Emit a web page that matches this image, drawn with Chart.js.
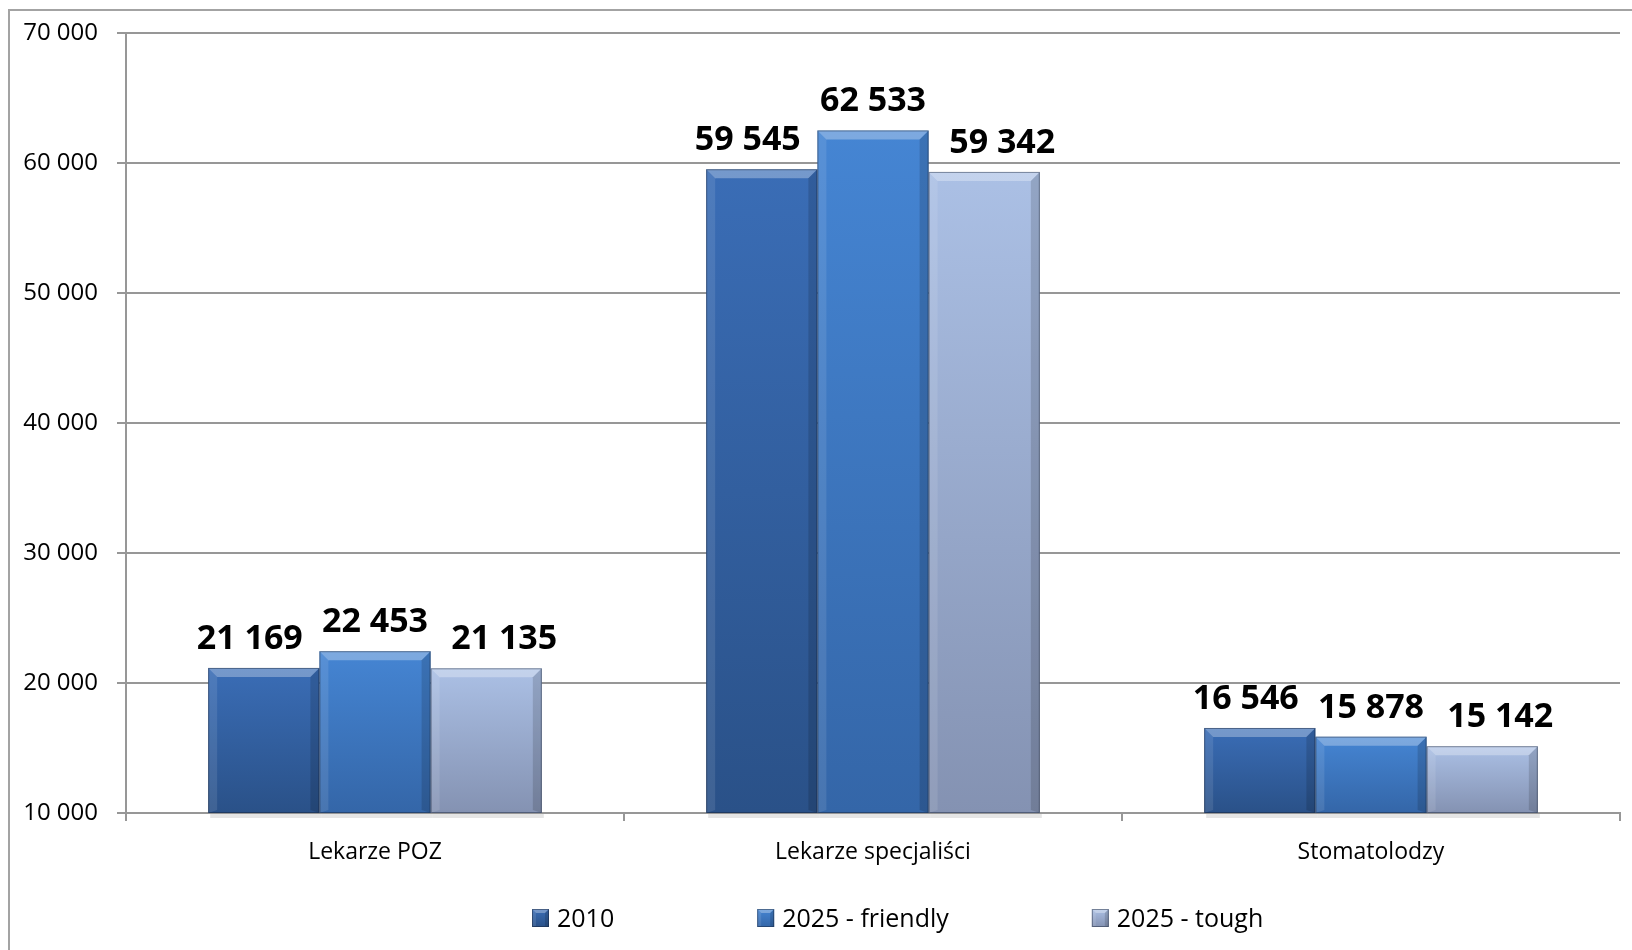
<!DOCTYPE html>
<html lang="pl">
<head>
<meta charset="utf-8">
<title>Lekarze 2010 - 2025</title>
<script src="https://cdn.jsdelivr.net/npm/chart.js@4.4.1/dist/chart.umd.min.js"></script>
<style>
  html, body { margin: 0; padding: 0; background: #fff; overflow: hidden; }
  #wykres { display: block; }
</style>
</head>
<body>
<canvas id="wykres" width="1632" height="950"></canvas>
<script>
(() => {
  // Dane wykresu
  const kategorie = ["Lekarze POZ", "Lekarze specjaliści", "Stomatolodzy"];
  const serie = ["2010", "2025 - friendly", "2025 - tough"];
  const wartosci2010 = [21169, 59545, 16546];
  const wartosciFriendly = [22453, 62533, 15878];
  const wartosciTough = [21135, 59342, 15142];
  const osYMin = 10000;
  const osYMax = 70000;
  const osYKrok = 10000;

  const czcionka = '"Open Sans", "DejaVu Sans", sans-serif';
  const szary = "#979797";

  // Kolory słupków: góra / dół / legenda
  const kolory = [
    { gora: "#3a6db6", dol: "#2a5188", legenda: "#2f5f9f" },
    { gora: "#4585d3", dol: "#3466a8", legenda: "#3a76c2" },
    { gora: "#abc0e5", dol: "#8492b2", legenda: "#9cadd0" },
  ];
  // przesunięcie etykiet w poziomie (jak w Excelu, żeby się nie nakładały)
  const przesuniecieEtykiet = [-14, 0, 18];

  // 21169 -> "21 169"
  function formatuj(v) {
    return String(v).replace(/\B(?=(\d{3})+(?!\d))/g, " ");
  }

  // Gradient pionowy dla każdego słupka osobno
  function gradientSlupka(ctx, i) {
    const chart = ctx.chart;
    if (!chart.chartArea || ctx.type !== "data") return kolory[i].legenda;
    const y = chart.scales.y;
    const gora = y.getPixelForValue(ctx.raw);
    const dol = y.getPixelForValue(osYMin);
    const g = chart.ctx.createLinearGradient(0, gora, 0, dol);
    g.addColorStop(0, kolory[i].gora);
    g.addColorStop(1, kolory[i].dol);
    return g;
  }

  // Fazowanie prostokąta (jasna góra, ciemny prawy bok)
  function faza(c, l, t, r, b, f) {
    c.save();
    c.fillStyle = "rgba(255,255,255,0.30)";
    c.beginPath();
    c.moveTo(l, t); c.lineTo(r, t); c.lineTo(r - f, t + f); c.lineTo(l + f, t + f);
    c.closePath(); c.fill();
    c.fillStyle = "rgba(255,255,255,0.10)";
    c.beginPath();
    c.moveTo(l, t); c.lineTo(l + f, t + f); c.lineTo(l + f, b - f / 3); c.lineTo(l, b);
    c.closePath(); c.fill();
    c.fillStyle = "rgba(0,0,0,0.14)";
    c.beginPath();
    c.moveTo(r, t); c.lineTo(r - f, t + f); c.lineTo(r - f, b - f / 3); c.lineTo(r, b);
    c.closePath(); c.fill();
    c.strokeStyle = "rgba(20,30,50,0.45)";
    c.lineWidth = 1;
    c.strokeRect(l + 0.5, t + 0.5, r - l - 1, b - t - 1);
    c.restore();
  }

  // Ramka wokół całego wykresu (lewa i górna krawędź)
  const ramka = {
    id: "ramka",
    beforeDraw(chart) {
      const c = chart.ctx;
      c.save();
      c.strokeStyle = "#a3a3a3";
      c.lineWidth = 2;
      c.beginPath();
      c.moveTo(9, chart.height);
      c.lineTo(9, 10);
      c.lineTo(chart.width, 10);
      c.stroke();
      c.restore();
    },
  };

  // Efekt fazowania słupków + etykiety z wartościami
  const fazowanie = {
    id: "fazowanie",
    afterDatasetsDraw(chart) {
      const c = chart.ctx;
      const obszar = chart.chartArea;
      chart.data.datasets.forEach((ds, i) => {
        chart.getDatasetMeta(i).data.forEach((bar) => {
          const p = bar.getProps(["x", "y", "base", "width"], true);
          const l = p.x - p.width / 2;
          const r = p.x + p.width / 2;
          const b = Math.min(p.base, obszar.bottom);
          faza(c, l, p.y, r, b, 9);
          // lekki cień pod słupkiem
          c.save();
          c.fillStyle = "rgba(0,0,0,0.10)";
          c.fillRect(l + 2, b + 1, r - l, 4);
          c.restore();
        });
      });
      // etykiety nad słupkami
      c.save();
      c.font = "bold 34px " + czcionka;
      c.fillStyle = "#000";
      c.textAlign = "center";
      c.textBaseline = "alphabetic";
      chart.data.datasets.forEach((ds, i) => {
        chart.getDatasetMeta(i).data.forEach((bar, j) => {
          c.fillText(formatuj(ds.data[j]), bar.x + przesuniecieEtykiet[i], bar.y - 19);
        });
      });
      c.restore();
    },
  };

  // Legenda rysowana ręcznie na dole
  const legenda = {
    id: "legenda",
    afterDraw(chart) {
      const c = chart.ctx;
      c.save();
      c.font = "25px " + czcionka;
      c.textBaseline = "middle";
      c.textAlign = "left";
      let x = 532;
      const yS = 920;
      serie.forEach((nazwa, i) => {
        const g = c.createLinearGradient(0, yS - 11, 0, yS + 7);
        g.addColorStop(0, kolory[i].gora);
        g.addColorStop(1, kolory[i].dol);
        c.fillStyle = g;
        c.fillRect(x, yS - 11, 17, 18);
        faza(c, x, yS - 11, x + 17, yS + 7, 4);
        c.fillStyle = "#000";
        c.fillText(nazwa, x + 25, yS);
        x += 25 + c.measureText(nazwa).width + 143;
      });
      c.restore();
    },
  };

  function grafikSlupkowy() {
    const ctx = document.getElementById("wykres");
    const wartosci = [wartosci2010, wartosciFriendly, wartosciTough];

    new Chart(ctx, {
      type: "bar",
      data: {
        labels: kategorie,
        datasets: serie.map((nazwa, i) => ({
          label: nazwa,
          data: wartosci[i],
          backgroundColor: (c) => gradientSlupka(c, i),
          borderWidth: 0,
          categoryPercentage: 0.67,
          barPercentage: 1,
        })),
      },
      options: {
        responsive: false,
        animation: false,
        layout: { padding: { top: 33, right: 12, left: 0, bottom: 0 } },
        plugins: {
          legend: { display: false },
          tooltip: { enabled: false },
        },
        scales: {
          x: {
            grid: {
              offset: true,
              drawOnChartArea: false,
              drawTicks: true,
              tickLength: 8,
              color: szary,
              lineWidth: 2,
            },
            border: { display: true, color: szary, width: 2 },
            ticks: {
              color: "#000",
              font: { family: czcionka, size: 23 },
              padding: 18,
            },
            afterFit: (s) => { s.height = 137; },
          },
          y: {
            min: osYMin,
            max: osYMax,
            ticks: {
              stepSize: osYKrok,
              callback: (v) => formatuj(v),
              color: "#000",
              font: { family: czcionka, size: 24 },
              padding: 19,
            },
            grid: { color: szary, lineWidth: 2, tickLength: 9 },
            border: { color: szary, width: 2 },
            afterFit: (s) => { s.width = 126; },
          },
        },
      },
      plugins: [ramka, fazowanie, legenda],
    });
  }

  document.addEventListener("DOMContentLoaded", grafikSlupkowy);
})();
</script>
</body>
</html>
